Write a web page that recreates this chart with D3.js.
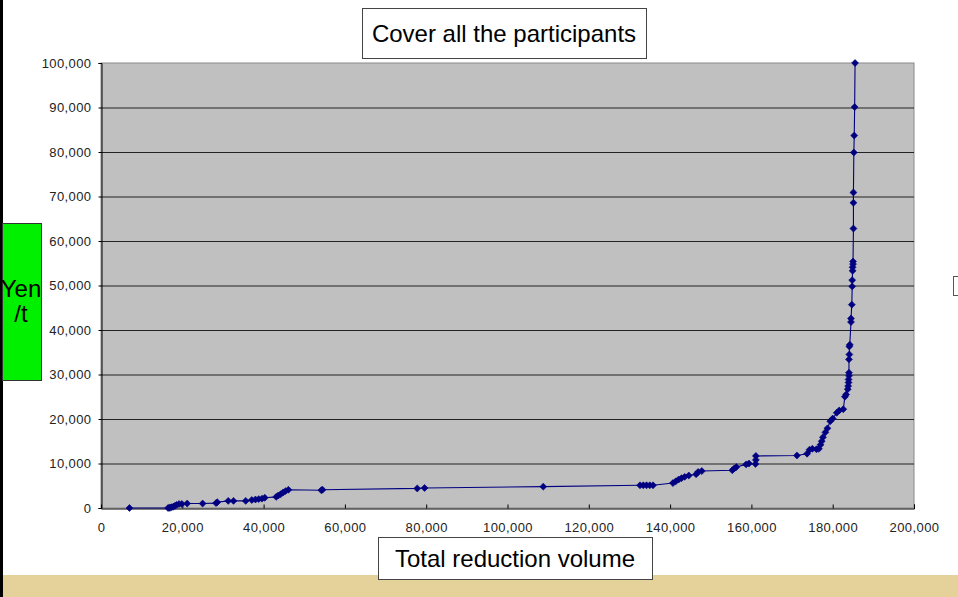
<!DOCTYPE html>
<html>
<head>
<meta charset="utf-8">
<script src="https://d3js.org/d3.v7.min.js"></script>
<style>
  body { margin:0; background:#fff; }
  svg { display:block; font-family:"Liberation Sans", Arial, sans-serif; }
</style>
</head>
<body>
<div id="chartContainer"></div>
<script type="text/javascript">
// total reduction volume (t), cumulative
var volumes = [7000, 16500, 16800, 17100, 17400, 17800, 18200, 18600, 19200, 19900,
  21200, 25000, 28300, 28600, 31300, 32600, 35600, 37100, 38000, 38800,
  39600, 40300, 43100, 43600, 44200, 44800, 45400, 46100, 54200, 54500,
  77800, 79600, 108800, 132600, 133400, 134200, 135000, 135800, 140700, 141400,
  142100, 142800, 143600, 144600, 146400, 146900, 147800, 155300, 155800, 156300,
  158700, 159400, 161000, 161100, 161100, 171200, 173700, 174300, 175000, 176000,
  176600, 177000, 177300, 177600, 178200, 178700, 179400, 180000, 181000, 181600,
  182600, 183000, 183300, 183700, 183800, 183900, 183900, 184000, 184000, 184000,
  184100, 184100, 184200, 184500, 184500, 184700, 184800, 184800, 184900, 184900,
  185000, 185000, 185100, 185100, 185100, 185200, 185300, 185400, 185500];
// cost (Yen/t)
var costs = [0, 0, 50, 100, 200, 300, 500, 700, 900, 900,
  1000, 1000, 1100, 1300, 1600, 1600, 1600, 1800, 1900, 2000,
  2100, 2300, 2500, 2800, 3100, 3500, 3800, 4100, 4000, 4100,
  4400, 4500, 4800, 5100, 5100, 5100, 5100, 5100, 5600, 6000,
  6400, 6700, 7000, 7300, 7600, 8100, 8300, 8500, 8900, 9200,
  9800, 10000, 9900, 10800, 11700, 11800, 12200, 13100, 13300, 13200,
  13300, 14200, 15000, 15900, 17000, 17900, 19500, 20100, 21400, 21900,
  22200, 25000, 25500, 26700, 27400, 28200, 28900, 29700, 30400, 33400,
  34500, 36300, 36700, 41800, 42600, 45700, 49800, 51200, 53300, 54100,
  54800, 55400, 62800, 68600, 70900, 79900, 83700, 90100, 100000];
var xTicks = [0, 20000, 40000, 60000, 80000, 100000, 120000, 140000, 160000, 180000, 200000];
var yTicks = [0, 10000, 20000, 30000, 40000, 50000, 60000, 70000, 80000, 90000, 100000];
var chartTitle = "Cover all the participants";
var xTitle = "Total reduction volume";
var yTitle = ["Yen", "/t"];

var W = 958, H = 597;
var plot = {left: 101, top: 63, right: 914, bottom: 508};

var svg = d3.select("#chartContainer").append("svg")
  .attr("width", W).attr("height", H);

svg.append("rect").attr("width", W).attr("height", H).attr("fill", "#fff");

// beige band at the bottom
svg.append("rect").attr("x", 3).attr("y", 575).attr("width", W - 3).attr("height", H - 575)
  .attr("fill", "#e5d29b");
// left border
svg.append("rect").attr("x", 0).attr("y", 0).attr("width", 3).attr("height", H).attr("fill", "#000");

var x = d3.scaleLinear().domain([0, 200000]).range([plot.left, plot.right]);
var y = d3.scaleLinear().domain([0, 100000]).range([plot.bottom, plot.top]);
var fmt = d3.format(",");

svg.append("rect")
  .attr("x", plot.left).attr("y", plot.top)
  .attr("width", plot.right - plot.left).attr("height", plot.bottom - plot.top)
  .attr("fill", "#c0c0c0").attr("stroke", "#8a8a8a");

// gridlines
svg.append("g").selectAll("line").data(yTicks.slice(1, -1)).enter().append("line")
  .attr("x1", plot.left).attr("x2", plot.right)
  .attr("y1", function(d) { return y(d) + 0.5; }).attr("y2", function(d) { return y(d) + 0.5; })
  .attr("stroke", "#222").attr("stroke-width", 1);

// axes
var yAxis = svg.append("g").attr("transform", "translate(" + (plot.left + 0.5) + ",0)")
  .call(d3.axisLeft(y).tickValues(yTicks).tickFormat(fmt).tickSize(3).tickPadding(7));
var xAxis = svg.append("g").attr("transform", "translate(0," + (plot.bottom + 0.5) + ")")
  .call(d3.axisBottom(x).tickValues(xTicks).tickFormat(fmt).tickSize(-4).tickPadding(14));
[xAxis, yAxis].forEach(function(a) {
  a.select(".domain").attr("stroke", "#000");
  a.selectAll(".tick line").attr("stroke", "#000");
  a.selectAll(".tick text").attr("fill", "#222")
    .style("font-size", "13px").style("letter-spacing", "0.4px")
    .style("font-family", "'Liberation Sans', Arial, sans-serif");
});
xAxis.select(".tick:first-of-type line").remove();

// curve
var pts = volumes.map(function(v, i) { return [v, costs[i]]; });
svg.append("path").datum(pts)
  .attr("fill", "none").attr("stroke", "#000080").attr("stroke-width", 1.1)
  .attr("d", d3.line().x(function(d) { return x(d[0]); }).y(function(d) { return y(d[1]); }));

// diamond markers (square turned 45deg, wider than d3's diamond)
svg.append("g").selectAll("path").data(pts).enter().append("path")
  .attr("d", d3.symbol().type(d3.symbolSquare).size(24))
  .attr("transform", function(d) { return "translate(" + x(d[0]) + "," + y(d[1]) + ") rotate(45)"; })
  .attr("fill", "#000080").attr("stroke", "#000080").attr("stroke-width", 0.6);

// title boxes
function boxText(bx, by, bw, bh, txt) {
  svg.append("rect").attr("x", bx + 0.5).attr("y", by + 0.5).attr("width", bw).attr("height", bh)
    .attr("fill", "#fff").attr("stroke", "#444");
  svg.append("text").attr("x", bx + bw / 2).attr("y", by + bh / 2 + 9)
    .attr("text-anchor", "middle").style("font-size", "24px").attr("fill", "#000").text(txt);
}
boxText(362, 8, 284, 50, chartTitle);
boxText(378, 537, 274, 42, xTitle);

// green y label
svg.append("rect").attr("x", 2.5).attr("y", 223.5).attr("width", 39).attr("height", 157)
  .attr("fill", "#00f000").attr("stroke", "#333");
svg.append("text").attr("x", 21).attr("y", 297).attr("text-anchor", "middle")
  .style("font-size", "24px").text(yTitle[0]);
svg.append("text").attr("x", 21).attr("y", 322).attr("text-anchor", "middle")
  .style("font-size", "24px").text(yTitle[1]);

// small box at right edge
svg.append("rect").attr("x", 953.5).attr("y", 276.5).attr("width", 8).attr("height", 19)
  .attr("fill", "#fff").attr("stroke", "#555");
</script>
</body>
</html>
